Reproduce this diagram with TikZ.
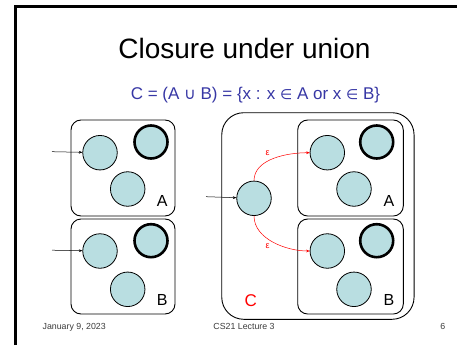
\documentclass[tikz,border=0pt]{standalone}
\usepackage{fontspec}
\setmainfont{Liberation Sans}
\newfontfamily\symfont{DejaVu Sans}
\usetikzlibrary{arrows.meta}
\definecolor{stfill}{RGB}{185,222,225}
\definecolor{subblue}{RGB}{55,55,165}
\definecolor{footgray}{RGB}{60,60,60}
\newcommand{\elemsym}{{\symfont\fontsize{14}{16}\selectfont ∈}}
\newcommand{\unisym}{{\symfont\fontsize{16}{18}\selectfont ∪}}
\begin{document}
\begin{tikzpicture}[x=1pt,y=-1pt,
  st/.style={circle,draw=black,fill=stfill,line width=0.8pt,minimum size=34.5pt,inner sep=0pt},
  acc/.style={st,line width=2.6pt,minimum size=33pt},
  box/.style={draw=black,line width=0.9pt,rounded corners=10pt,inner sep=0pt},
  bigbox/.style={draw=black,line width=0.9pt,rounded corners=22pt,inner sep=0pt},
  arr/.style={line width=0.5pt,-{Stealth[length=3.5pt,width=2.8pt]}},
  earr/.style={red,line width=0.5pt,-{Stealth[length=3.5pt,width=2.8pt]}},
  lbl/.style={anchor=base,font=\fontsize{16}{18}\selectfont,inner sep=0pt},
  eps/.style={red,font=\fontsize{9}{10}\selectfont,inner sep=0pt},
  foot/.style={anchor=base,font=\fontsize{8.8}{10}\selectfont,text=footgray,inner sep=0pt}]
\useasboundingbox (0,0) rectangle (457,345);
\fill[white] (0,0) rectangle (457,345);
% slide frame
\draw[line width=3pt] (15,345) -- (15,6.5) -- (457,6.5);
% title
\node[anchor=base,font=\fontsize{28}{30}\selectfont,inner sep=0pt] (title) at (244.5,58) {Closure under union};
\node[anchor=base,font=\fontsize{17}{19}\selectfont,text=subblue,inner sep=0pt] (sub) at (255.5,99)
  {C = (A \unisym{} B) = \{x : x \elemsym{} A or x \elemsym{} B\}};
% left boxes
\node[box,minimum width=104pt,minimum height=96pt] (boxA) at (123,168) {};
\node[box,minimum width=104pt,minimum height=95pt] (boxB) at (123,266.5) {};
% big C box
\node[bigbox,minimum width=192.3pt,minimum height=206.6pt] (boxC) at (317.9,216) {};
\node[box,minimum width=105.6pt,minimum height=96pt] (rboxA) at (350.5,168) {};
\node[box,minimum width=105.6pt,minimum height=95pt] (rboxB) at (350.5,266.5) {};
% left A
\node[st] (a1) at (100,152.7) {};
\node[acc] (a2) at (151,142) {};
\node[st] (a3) at (127.7,189) {};
\node[lbl] (la) at (162.3,206.7) {A};
% left B
\node[st] (b1) at (100,251) {};
\node[acc] (b2) at (151,240.7) {};
\node[st] (b3) at (127.7,289.3) {};
\node[lbl] (lb) at (162.3,305) {B};
% right A
\node[st] (ra1) at (327.3,152.7) {};
\node[acc] (ra2) at (376.7,142) {};
\node[st] (ra3) at (354,189) {};
\node[lbl] (lra) at (389,206.7) {A};
% right B
\node[st] (rb1) at (327.3,251) {};
\node[acc] (rb2) at (376.7,240.7) {};
\node[st] (rb3) at (354,289.3) {};
\node[lbl] (lrb) at (389,305) {B};
% C start
\node[st] (c0) at (254,198.3) {};
\node[lbl,text=red,font=\fontsize{17}{19}\selectfont] (lc) at (250.7,306) {C};
% inputs
\coordinate (inA) at (52,151.7);
\coordinate (inB) at (52,250.2);
\coordinate (inC) at (206,196.7);
\draw[arr] (inA) -- (a1);
\draw[arr] (inB) -- (b1);
\draw[arr] (inC) -- (c0);
% epsilon transitions
\draw[earr] (c0.north) to[out=90,in=180,looseness=0.9] (ra1.west);
\draw[earr] (c0.south) to[out=-90,in=180,looseness=0.9] (rb1.west);
\node[eps] (e1) at (267.7,153.3) {ε};
\node[eps] (e2) at (267.7,246) {ε};
% footer
\node[foot] (f1) at (74.2,329) {January 9, 2023};
\node[foot] (f2) at (244,329) {CS21 Lecture 3};
\node[foot] (f3) at (442.7,329) {6};
\end{tikzpicture}
\end{document}
